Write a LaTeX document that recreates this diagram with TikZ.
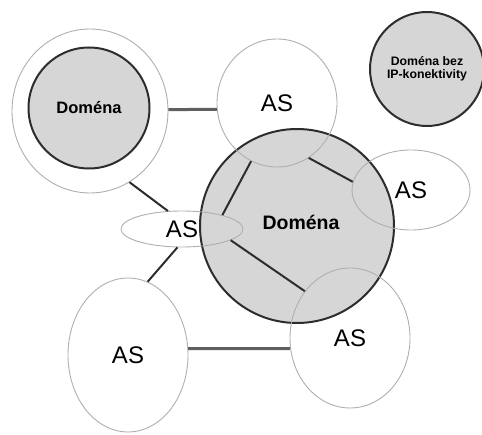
\documentclass[tikz,border=0pt]{standalone}
\usepackage{fontspec}
\setmainfont{Liberation Sans}
\usetikzlibrary{shapes.geometric}
\definecolor{domfill}{RGB}{214,214,214}
\definecolor{domline}{RGB}{45,45,45}
\definecolor{asline}{RGB}{175,175,175}
\definecolor{linkgrey}{RGB}{95,95,95}
\tikzset{
  asnode/.style={ellipse, draw=asline, line width=0.9pt, inner sep=0pt,
    font=\fontsize{24}{24}\selectfont},
  domnode/.style={circle, fill=domfill, draw=domline, line width=2pt, inner sep=0pt,
    font=\bfseries\fontsize{16.5}{16.5}\selectfont},
  ringnode/.style={ellipse, fill=white, draw=asline, line width=0.9pt, inner sep=0pt},
  peer/.style={draw=linkgrey, line width=3pt},
  link/.style={draw=domline, line width=2pt},
}
\begin{document}
\begin{tikzpicture}[x=1pt, y=-1pt]
\useasboundingbox (0,0) rectangle (482,435);

% top-left domain inside its surrounding ring
\node[ringnode, minimum width=156pt, minimum height=164pt] (ring) at (90,111) {};
\node[domnode, minimum size=121pt] (domA) at (89,108) {Doména};

% isolated domain
\node[domnode, minimum size=114pt, align=center,
      font=\bfseries\fontsize{12.3}{12.5}\selectfont] (domC) at (427,69)
      {Doména bez\\IP-konektivity};

% central domain
\node[domnode, minimum size=194pt,
      label={[font=\bfseries\fontsize{19.5}{19.5}\selectfont, xshift=4pt, yshift=4pt]center:Doména}]
      (domB) at (297,226) {};

% autonomous systems
\node[asnode, minimum width=120pt, minimum height=128pt] (asTop) at (277,103) {AS};
\node[asnode, minimum width=118pt, minimum height=80pt] (asRight) at (411,190) {AS};
\node[asnode, minimum width=122pt, minimum height=36pt] (asMid) at (182,229) {AS};
\node[asnode, minimum width=120pt, minimum height=154pt] (asBL) at (128,355) {AS};
\node[asnode, minimum width=120pt, minimum height=140pt] (asBR) at (350,338) {AS};

% links
\draw[peer] (ring.1.5) -- (asTop.186);
\draw[peer] (asBL.6) -- (asBR.190);
\draw[link] (ring.-61) -- (asMid.128);
\draw[link] (asMid.256) -- (asBL.75);
\draw[link] (asTop.246) -- (asMid.19);
\draw[link] (asTop.-60.6) -- (asRight.172);
\draw[link] (asMid.-13.4) -- (asBR.134);
\end{tikzpicture}
\end{document}
